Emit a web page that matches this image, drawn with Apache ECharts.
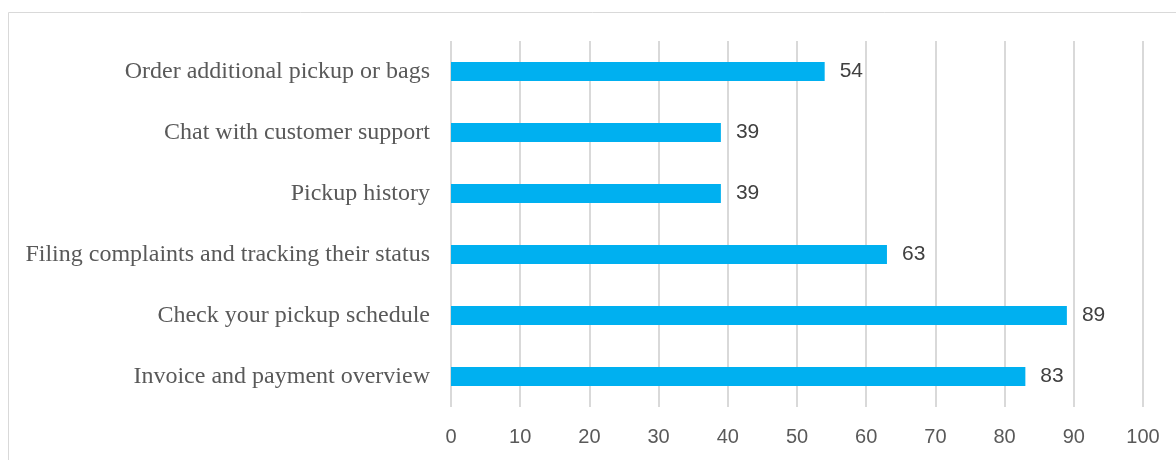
<!DOCTYPE html>
<html><head><meta charset="utf-8">
<script src="https://cdn.jsdelivr.net/npm/echarts@6/dist/echarts.min.js"></script>
<style>html,body{margin:0;padding:0;background:#fff}#c{width:1176px;height:460px}</style>
</head><body><div id="c"></div>
<script>
const categories = ["Order additional pickup or bags","Chat with customer support","Pickup history","Filing complaints and tracking their status","Check your pickup schedule","Invoice and payment overview"];
const values = [54,39,39,63,89,83];
const chart = echarts.init(document.getElementById('c'), null, {renderer:'canvas'});
chart.setOption({
  animation:false,
  graphic:[{type:'rect',shape:{x:8.5,y:12.5,width:1200,height:500},style:{fill:'none',stroke:'#d9d9d9',lineWidth:1},silent:true}],
  grid:{left:451,right:33,top:41,bottom:53},
  xAxis:{type:'value',min:0,max:100,interval:10,
    axisLine:{show:false},axisTick:{show:false},
    splitLine:{show:true,lineStyle:{color:'#d9d9d9',width:2}},
    axisLabel:{color:'#595959',fontFamily:'Liberation Sans',fontSize:20,margin:20}},
  yAxis:{type:'category',data:categories,inverse:true,
    axisLine:{show:false},axisTick:{show:false},
    axisLabel:{color:'#595959',fontFamily:'Liberation Serif',fontSize:24,margin:21,padding:[4,0,0,0]}},
  series:[{type:'bar',data:values,barWidth:19,itemStyle:{color:'#00b0f0'},
    label:{show:true,position:'right',distance:15,color:'#404040',fontFamily:'Liberation Sans',fontSize:21,padding:[4,0,0,0]}}]
});
</script></body></html>
